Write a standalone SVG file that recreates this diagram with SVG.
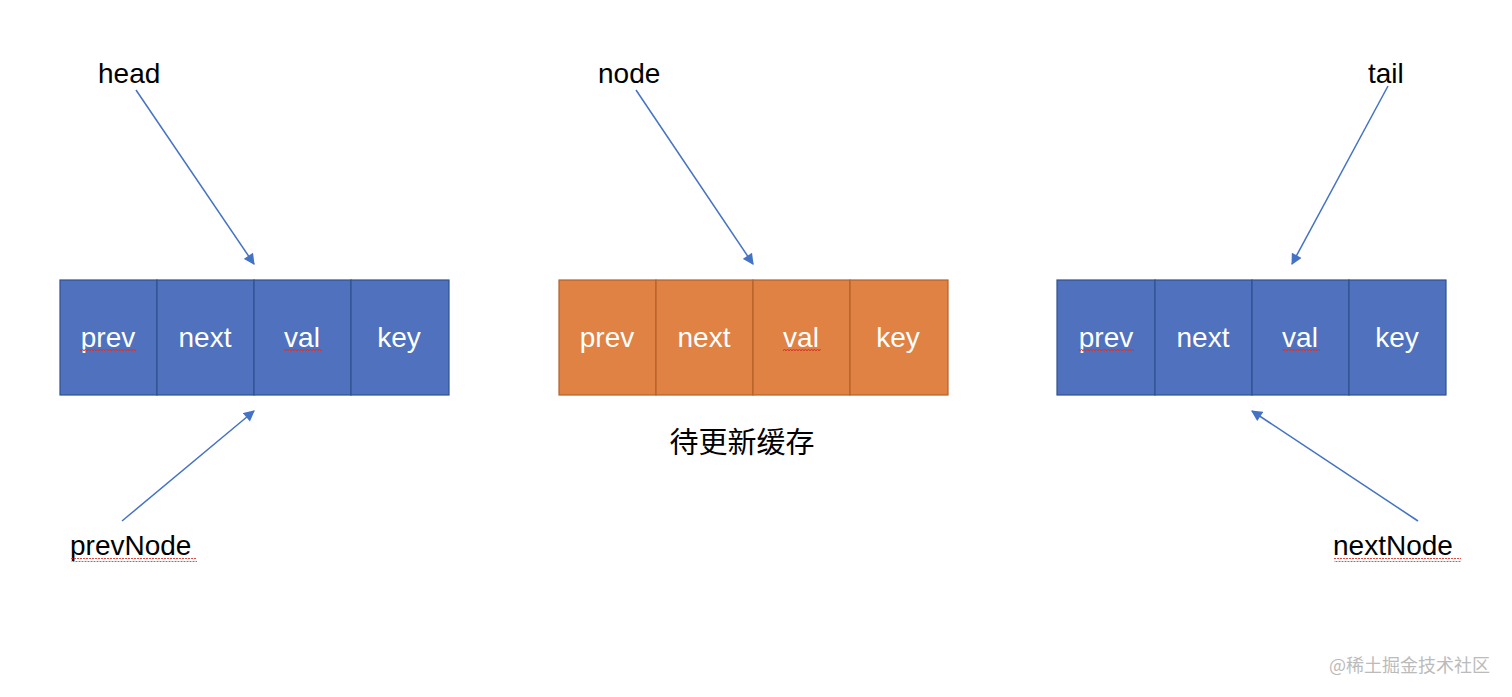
<svg xmlns="http://www.w3.org/2000/svg" width="1512" height="697" viewBox="0 0 1512 697">
<defs>
<marker id="ah" viewBox="0 0 10 10" refX="9" refY="5" markerWidth="12" markerHeight="11" markerUnits="userSpaceOnUse" orient="auto">
<path d="M0,0 L10,5 L0,10 z" fill="#4472C4"/>
</marker>
<pattern id="sq" width="6" height="4" patternUnits="userSpaceOnUse">
<path d="M0,3 L1.5,1 L3,3 L4.5,1 L6,3" fill="none" stroke="#D9342B" stroke-width="1"/>
</pattern>
</defs>
<style>
.blue{fill:#4F71BE;stroke:#2F528F;stroke-width:1.2}
.orange{fill:#DF8244;stroke:#B5622A;stroke-width:1.2}
.cell{font-family:"Liberation Sans","Noto Sans",sans-serif;font-size:28px;fill:#FFFFFF;text-anchor:middle}
.lbl{font-family:"Liberation Sans","Noto Sans",sans-serif;font-size:28px;fill:#000000}
.conn{stroke:#4472C4;stroke-width:1.5;fill:none;marker-end:url(#ah)}
.sq{fill:url(#sq)}
</style>
<rect width="1512" height="697" fill="#FFFFFF"/>

<g id="headNode">
<rect class="blue" x="60" y="280" width="97" height="115"/>
<rect class="blue" x="157" y="280" width="97" height="115"/>
<rect class="blue" x="254" y="280" width="97" height="115"/>
<rect class="blue" x="351" y="280" width="98" height="115"/>
<text class="cell" x="108" y="347">prev</text>
<text class="cell" x="205" y="347">next</text>
<text class="cell" x="302" y="347">val</text>
<text class="cell" x="399" y="347">key</text>
<rect class="sq" x="80" y="349" width="56" height="4"/>
<rect class="sq" x="284" y="349" width="38" height="4"/>
</g>

<g id="midNode">
<rect class="orange" x="559" y="280" width="97" height="115"/>
<rect class="orange" x="656" y="280" width="97" height="115"/>
<rect class="orange" x="753" y="280" width="97" height="115"/>
<rect class="orange" x="850" y="280" width="98" height="115"/>
<text class="cell" x="607" y="347">prev</text>
<text class="cell" x="704" y="347">next</text>
<text class="cell" x="801" y="347">val</text>
<text class="cell" x="898" y="347">key</text>
<rect class="sq" x="783" y="349" width="38" height="4"/>
</g>

<g id="tailNode">
<rect class="blue" x="1057" y="280" width="98" height="115"/>
<rect class="blue" x="1155" y="280" width="97" height="115"/>
<rect class="blue" x="1252" y="280" width="97" height="115"/>
<rect class="blue" x="1349" y="280" width="97" height="115"/>
<text class="cell" x="1106" y="347">prev</text>
<text class="cell" x="1203" y="347">next</text>
<text class="cell" x="1300" y="347">val</text>
<text class="cell" x="1397" y="347">key</text>
<rect class="sq" x="1078" y="349" width="56" height="4"/>
<rect class="sq" x="1282" y="349" width="38" height="4"/>
</g>

<g id="labels">
<text class="lbl" x="98" y="83">head</text>
<text class="lbl" x="598" y="83">node</text>
<text class="lbl" x="1368" y="83">tail</text>
<text class="lbl" x="70" y="555">prevNode</text>
<rect class="sq" x="71" y="558" width="126" height="4"/>
<text class="lbl" x="1333" y="555">nextNode</text>
<rect class="sq" x="1334" y="558" width="127" height="4"/>
<text x="742" y="453" font-family="'Noto Sans CJK SC',sans-serif" font-size="29" fill="#000000" text-anchor="middle">待更新缓存</text>
<text x="1490" y="672" font-family="'Noto Sans CJK SC',sans-serif" font-size="18" fill="#BBBBBB" text-anchor="end">@稀土掘金技术社区</text>
</g>

<g id="connectors">
<line class="conn" x1="136" y1="90" x2="254" y2="264"/>
<line class="conn" x1="636" y1="90" x2="753" y2="264"/>
<line class="conn" x1="1388" y1="86" x2="1292" y2="264"/>
<line class="conn" x1="122" y1="521" x2="254" y2="411"/>
<line class="conn" x1="1418" y1="521" x2="1252" y2="411"/>
</g>
</svg>
